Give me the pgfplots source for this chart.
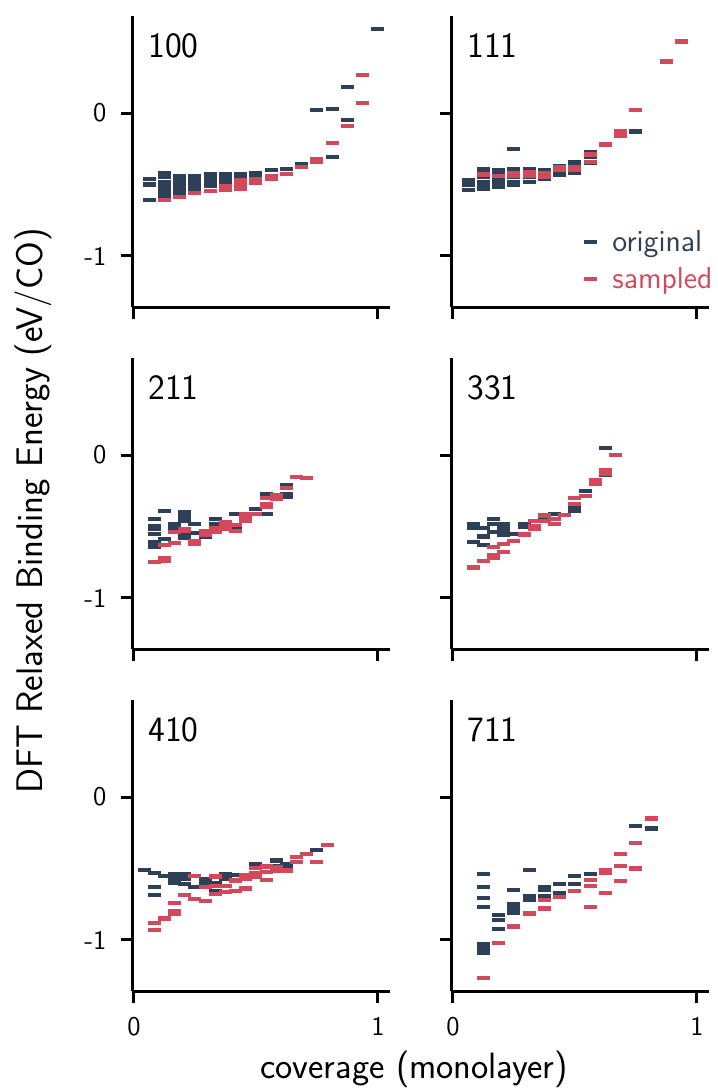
\documentclass[border=0pt]{standalone}
\usepackage{fontspec}
\usepackage{pgfplots}
\pgfplotsset{compat=1.18}
\definecolor{cO}{HTML}{2E4057}
\definecolor{cS}{HTML}{D1495B}
\tikzset{plab/.style={anchor=base west, font=\fontsize{17.8}{20}\selectfont\sffamily}}
\pgfplotsset{
 panel/.style={
  scale only axis, width=128.6pt, height=145.6pt,
  xmin=-0.006, xmax=1.048, ymin=-1.359, ymax=0.678,
  axis x line*=bottom, axis y line*=left,
  axis line style={line width=1.5pt, black},
  xtick={0,1}, ytick={-1,0},
  tick align=outside, major tick length=6pt,
  tick style={line width=1.5pt, black},
  xticklabels={}, yticklabels={},
  xticklabel shift=3.5pt, yticklabel shift=3.5pt,
  ticklabel style={font=\fontsize{13.5}{16}\selectfont\sffamily},
  anchor=south west, clip=false,
 },
 orig/.style={only marks, mark=-, mark size=3.25pt, color=cO, mark options={line width=2.1pt}},
 samp/.style={only marks, mark=-, mark size=3.25pt, color=cS, mark options={line width=2.1pt}},
 ylab/.style={yticklabels={-1,0}},
 xlab/.style={xticklabels={0,1}},
}
\begin{document}
\begin{tikzpicture}
\useasboundingbox (0,0) rectangle (358.5pt,545.5pt);
% ---------- 100 ----------
\begin{axis}[panel, ylab, at={(66.25pt,391.85pt)}]
\addplot[orig] coordinates {
(0.0625,-0.46)(0.0625,-0.50)(0.0625,-0.61)
(0.125,-0.42)(0.125,-0.45)(0.125,-0.48)(0.125,-0.51)(0.125,-0.54)(0.125,-0.57)(0.125,-0.59)
(0.1875,-0.44)(0.1875,-0.47)(0.1875,-0.50)(0.1875,-0.53)(0.1875,-0.56)
(0.25,-0.44)(0.25,-0.47)(0.25,-0.50)(0.25,-0.53)
(0.3125,-0.43)(0.3125,-0.46)(0.3125,-0.49)(0.3125,-0.51)
(0.375,-0.43)(0.375,-0.46)(0.375,-0.49)
(0.4375,-0.43)(0.4375,-0.45)
(0.5,-0.42)(0.5,-0.44)
(0.5625,-0.40)(0.625,-0.39)(0.6875,-0.36)
(0.75,0.02)(0.8125,0.03)(0.8125,-0.31)
(0.875,0.18)(0.875,-0.05)(1.0,0.585)
};
\addplot[samp] coordinates {
(0.125,-0.61)(0.1875,-0.59)(0.25,-0.56)(0.3125,-0.545)
(0.375,-0.51)(0.375,-0.54)
(0.4375,-0.47)(0.4375,-0.50)(0.4375,-0.53)
(0.5,-0.46)(0.5,-0.49)
(0.5625,-0.44)(0.5625,-0.46)
(0.625,-0.425)(0.6875,-0.38)
(0.75,-0.32)(0.75,-0.345)
(0.8125,-0.21)(0.875,-0.09)
(0.9375,0.265)(0.9375,0.072)
};
\node[plab] at (rel axis cs:0.034,0.858) {100};
\end{axis}
% ---------- 111 ----------
\begin{axis}[panel, at={(225.75pt,391.85pt)},
  legend style={draw=none, fill=none, at={(0.49,0.294)}, anchor=north west,
    font=\fontsize{15.2}{18}\selectfont\sffamily, row sep=2.5pt},
  legend cell align=left,
  legend image code/.code={\draw[#1] plot coordinates {(0pt,0pt)}; \path[draw=none,fill=none] (-3.25pt,-0.5pt) rectangle (9pt,0.5pt);}]
\addplot[orig] coordinates {
(0.0625,-0.47)(0.0625,-0.50)(0.0625,-0.54)
(0.125,-0.39)(0.125,-0.42)(0.125,-0.45)(0.125,-0.48)(0.125,-0.51)(0.125,-0.53)
(0.1875,-0.40)(0.1875,-0.43)(0.1875,-0.46)(0.1875,-0.49)(0.1875,-0.52)
(0.25,-0.25)(0.25,-0.39)(0.25,-0.42)(0.25,-0.45)(0.25,-0.48)(0.25,-0.50)
(0.3125,-0.39)(0.3125,-0.42)(0.3125,-0.45)(0.3125,-0.48)
(0.375,-0.40)(0.375,-0.43)(0.375,-0.46)
(0.4375,-0.37)(0.4375,-0.40)(0.4375,-0.43)
(0.5,-0.34)(0.5,-0.37)(0.5,-0.40)(0.5,-0.42)
(0.5625,-0.27)(0.5625,-0.31)(0.5625,-0.35)
(0.75,-0.13)
};
\addlegendentry{\textcolor{cO}{original}}
\addplot[samp] coordinates {
(0.125,-0.43)(0.1875,-0.44)
(0.25,-0.42)(0.25,-0.44)
(0.3125,-0.41)(0.3125,-0.44)
(0.375,-0.42)(0.375,-0.45)
(0.4375,-0.38)(0.4375,-0.40)
(0.5,-0.38)(0.5,-0.40)
(0.5625,-0.29)(0.5625,-0.34)
(0.625,-0.22)
(0.6875,-0.13)(0.6875,-0.16)
(0.75,0.02)(0.875,0.36)(0.9375,0.50)
};
\addlegendentry{\textcolor{cS}{sampled}}
\node[plab] at (rel axis cs:0.034,0.858) {111};
\end{axis}
% ---------- 211 ----------
\begin{axis}[panel, ylab, at={(66.25pt,220.85pt)}]
\addplot[orig] coordinates {
(0.0833,-0.45)(0.0833,-0.50)(0.0833,-0.52)(0.0833,-0.55)(0.0833,-0.61)(0.0833,-0.64)
(0.125,-0.39)(0.125,-0.59)
(0.1667,-0.48)(0.1667,-0.51)
(0.2083,-0.40)(0.2083,-0.43)(0.2083,-0.46)(0.2083,-0.55)(0.2083,-0.58)
(0.25,-0.48)(0.25,-0.545)
(0.2917,-0.57)
(0.3333,-0.45)(0.3333,-0.48)
(0.4167,-0.415)(0.4167,-0.52)
(0.5,-0.375)
(0.5417,-0.27)(0.5417,-0.41)
(0.625,-0.21)(0.625,-0.27)(0.625,-0.29)
};
\addplot[samp] coordinates {
(0.0833,-0.75)
(0.125,-0.63)(0.125,-0.72)(0.125,-0.74)
(0.1667,-0.54)(0.1667,-0.615)
(0.2083,-0.52)(0.2083,-0.53)
(0.25,-0.60)(0.25,-0.62)
(0.2917,-0.53)(0.2917,-0.56)
(0.3333,-0.51)(0.3333,-0.54)
(0.375,-0.47)(0.375,-0.50)(0.375,-0.52)
(0.4167,-0.49)(0.4167,-0.53)
(0.4583,-0.41)(0.4583,-0.44)(0.4583,-0.46)
(0.5,-0.41)
(0.5417,-0.30)(0.5417,-0.34)(0.5417,-0.36)
(0.5833,-0.28)(0.5833,-0.31)
(0.625,-0.23)
(0.6667,-0.155)(0.7083,-0.16)
};
\node[plab] at (rel axis cs:0.034,0.858) {211};
\end{axis}
% ---------- 331 ----------
\begin{axis}[panel, at={(225.75pt,220.85pt)}]
\addplot[orig] coordinates {
(0.0833,-0.48)(0.0833,-0.51)(0.0833,-0.61)
(0.125,-0.51)(0.125,-0.57)(0.125,-0.63)
(0.1667,-0.45)(0.1667,-0.48)(0.1667,-0.54)
(0.2083,-0.48)(0.2083,-0.51)(0.2083,-0.54)(0.2083,-0.56)
(0.25,-0.55)
(0.2917,-0.48)(0.2917,-0.50)
(0.375,-0.43)(0.4167,-0.415)
(0.5,-0.36)(0.5,-0.39)
(0.5417,-0.25)
(0.625,0.05)(0.625,-0.14)
};
\addplot[samp] coordinates {
(0.0833,-0.787)(0.125,-0.744)
(0.1667,-0.646)(0.1667,-0.70)(0.1667,-0.72)
(0.2083,-0.62)(0.2083,-0.68)
(0.25,-0.60)(0.2917,-0.556)
(0.3333,-0.463)(0.3333,-0.50)(0.3333,-0.52)
(0.375,-0.423)(0.375,-0.46)
(0.4167,-0.45)(0.4167,-0.48)
(0.4583,-0.42)
(0.5,-0.30)(0.5,-0.34)
(0.5417,-0.289)
(0.5833,-0.176)(0.5833,-0.20)
(0.625,-0.106)(0.625,-0.13)
(0.6667,0.0)
};
\node[plab] at (rel axis cs:0.034,0.858) {331};
\end{axis}
% ---------- 410 ----------
\begin{axis}[panel, ylab, xlab, at={(66.25pt,49.85pt)}]
\addplot[orig] coordinates {
(0.0417,-0.51)
(0.0833,-0.533)(0.0833,-0.632)(0.0833,-0.683)
(0.125,-0.555)
(0.1667,-0.54)(0.1667,-0.57)(0.1667,-0.60)
(0.2083,-0.54)(0.2083,-0.57)(0.2083,-0.61)
(0.25,-0.632)
(0.2917,-0.576)(0.2917,-0.60)
(0.3333,-0.60)(0.3333,-0.66)
(0.375,-0.54)(0.375,-0.57)
(0.4167,-0.548)
(0.5,-0.467)
(0.5833,-0.444)(0.5833,-0.48)
(0.625,-0.467)(0.625,-0.50)
(0.75,-0.368)
};
\addplot[samp] coordinates {
(0.0833,-0.883)(0.0833,-0.93)
(0.125,-0.85)
(0.1667,-0.742)(0.1667,-0.80)(0.1667,-0.82)
(0.2083,-0.683)
(0.25,-0.554)(0.25,-0.714)
(0.2917,-0.63)(0.2917,-0.73)
(0.3333,-0.556)(0.3333,-0.62)(0.3333,-0.678)
(0.375,-0.62)(0.375,-0.667)
(0.4167,-0.584)(0.4167,-0.655)
(0.4583,-0.548)(0.4583,-0.57)(0.4583,-0.64)
(0.5,-0.495)(0.5,-0.533)(0.5,-0.556)
(0.5417,-0.486)(0.5417,-0.525)(0.5417,-0.58)
(0.5833,-0.49)(0.5833,-0.52)
(0.625,-0.514)
(0.6667,-0.42)(0.6667,-0.456)
(0.7083,-0.397)
(0.75,-0.456)
(0.7917,-0.338)
};
\node[plab] at (rel axis cs:0.034,0.858) {410};
\end{axis}
% ---------- 711 ----------
\begin{axis}[panel, xlab, at={(225.75pt,49.85pt)}]
\addplot[orig] coordinates {
(0.125,-0.537)(0.125,-0.632)(0.125,-0.707)(0.125,-0.768)(0.125,-1.03)(0.125,-1.06)(0.125,-1.09)
(0.1875,-0.825)(0.1875,-0.86)(0.1875,-0.925)
(0.25,-0.65)(0.25,-0.75)(0.25,-0.78)(0.25,-0.81)
(0.3125,-0.51)(0.3125,-0.69)(0.3125,-0.72)
(0.375,-0.63)(0.375,-0.65)(0.375,-0.69)
(0.4375,-0.61)(0.4375,-0.67)
(0.5,-0.55)(0.5,-0.61)
(0.5625,-0.54)
(0.75,-0.2)(0.8125,-0.22)
};
\addplot[samp] coordinates {
(0.125,-1.266)(0.1875,-1.023)(0.25,-0.906)(0.3125,-0.815)
(0.375,-0.72)(0.375,-0.78)
(0.4375,-0.70)(0.5,-0.66)
(0.5625,-0.58)(0.5625,-0.62)(0.5625,-0.77)
(0.625,-0.514)(0.625,-0.53)(0.625,-0.67)
(0.6875,-0.397)(0.6875,-0.48)(0.6875,-0.59)
(0.75,-0.32)(0.75,-0.50)
(0.8125,-0.15)
};
\node[plab] at (rel axis cs:0.034,0.858) {711};
\end{axis}
\node[rotate=90, anchor=base, font=\fontsize{18.5}{22}\selectfont\sffamily] at (21pt,290pt) {DFT Relaxed Binding Energy (eV/CO)};
\node[anchor=base, font=\fontsize{18.3}{22}\selectfont\sffamily] at (207pt,6pt) {coverage (monolayer)};
\end{tikzpicture}
\end{document}
